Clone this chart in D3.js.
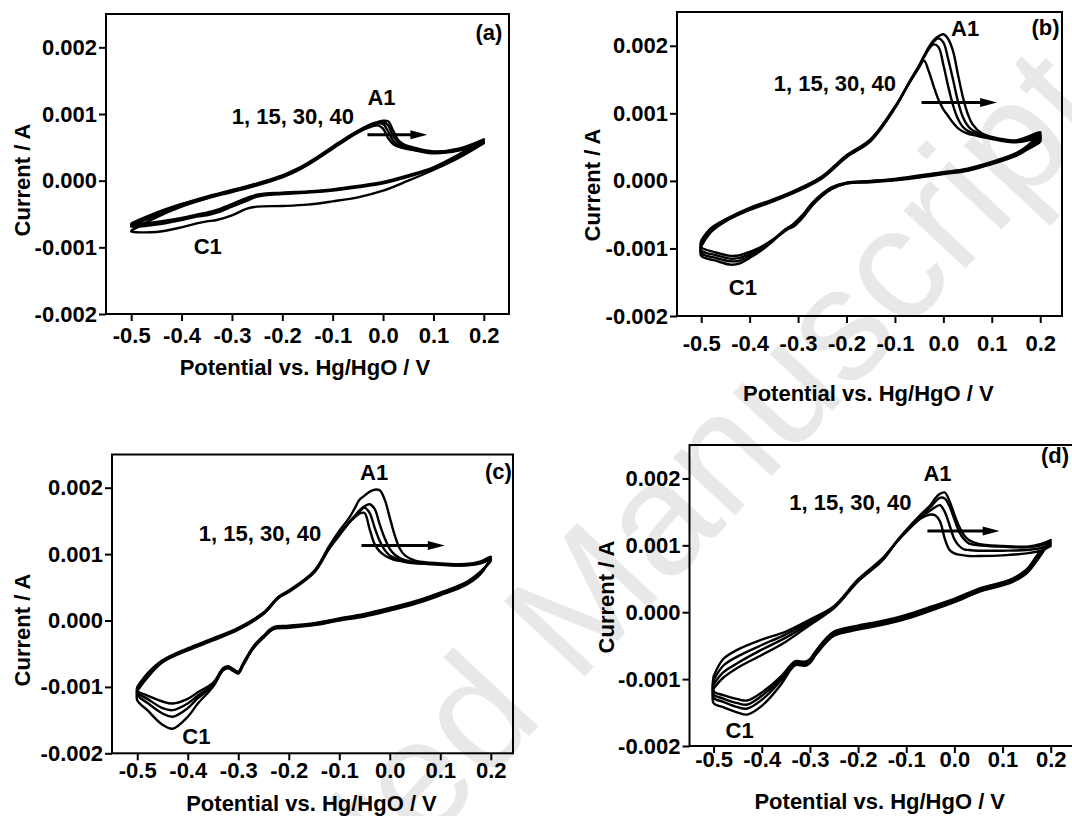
<!DOCTYPE html>
<html><head><meta charset="utf-8">
<script src="https://cdn.jsdelivr.net/npm/d3@7"></script>
<style>body{margin:0;background:#fff}svg{display:block}</style>
</head><body>
<svg id="chart" width="1072" height="816"></svg>
<script>
// ---------- shared axis data ----------
const xTickValues = [-0.5,-0.4,-0.3,-0.2,-0.1,0.0,0.1,0.2];
const xTickLabels = ["-0.5","-0.4","-0.3","-0.2","-0.1","0.0","0.1","0.2"];
const yTickValues = [-2,-1,0,1,2];            // mA
const yTickLabels = ["-0.002","-0.001","0.000","0.001","0.002"];
const cycleNames = ["1","15","30","40"];
const xTitle = "Potential vs. Hg/HgO / V";
const yTitle = "Current / A";
const cycleLabel = "1, 15, 30, 40";
const watermark = "Accepted Manuscript";

// ---------- panel (a) : E / V, I / mA ----------
const aFwdE = [-0.50,-0.45,-0.40,-0.35,-0.30,-0.25,-0.20,-0.17,-0.14,-0.10,-0.07,-0.04,-0.02,-0.01,0.00,0.01,0.02,0.03,0.04,0.06,0.10,0.15,0.20];
const aFwd1  = [-0.75,-0.55,-0.39,-0.27,-0.17,-0.07,0.05,0.15,0.28,0.48,0.63,0.76,0.82,0.83,0.78,0.64,0.55,0.51,0.49,0.46,0.41,0.45,0.56];
const aFwd15 = [-0.68,-0.52,-0.37,-0.26,-0.16,-0.06,0.06,0.16,0.29,0.49,0.64,0.77,0.84,0.86,0.85,0.74,0.60,0.53,0.50,0.47,0.42,0.46,0.58];
const aFwd30 = [-0.66,-0.50,-0.36,-0.25,-0.15,-0.05,0.07,0.17,0.30,0.50,0.65,0.78,0.85,0.87,0.88,0.83,0.67,0.57,0.52,0.48,0.43,0.47,0.60];
const aFwd40 = [-0.64,-0.48,-0.35,-0.24,-0.14,-0.04,0.08,0.18,0.31,0.51,0.66,0.79,0.86,0.88,0.90,0.89,0.75,0.61,0.55,0.50,0.44,0.48,0.62];
const aRevE  = [0.20,0.15,0.10,0.05,0.00,-0.05,-0.10,-0.15,-0.20,-0.25,-0.27,-0.30,-0.33,-0.35,-0.37,-0.40,-0.45,-0.50];
const aRev1  = [0.56,0.34,0.16,0.00,-0.15,-0.25,-0.31,-0.36,-0.38,-0.39,-0.42,-0.52,-0.59,-0.61,-0.64,-0.70,-0.77,-0.76];
const aRev15 = [0.58,0.37,0.18,0.06,-0.04,-0.10,-0.15,-0.18,-0.20,-0.24,-0.30,-0.39,-0.48,-0.52,-0.54,-0.59,-0.66,-0.69];
const aRev30 = [0.60,0.38,0.19,0.07,-0.03,-0.09,-0.14,-0.17,-0.19,-0.23,-0.28,-0.37,-0.46,-0.50,-0.52,-0.57,-0.64,-0.67];
const aRev40 = [0.62,0.39,0.20,0.08,-0.02,-0.08,-0.13,-0.16,-0.18,-0.21,-0.26,-0.35,-0.44,-0.48,-0.51,-0.56,-0.62,-0.65];

// ---------- panel (b) ----------
const bFwdE = [-0.50,-0.48,-0.45,-0.40,-0.35,-0.30,-0.25,-0.20,-0.15,-0.10,-0.07,-0.05,-0.04,-0.03,-0.02,-0.01,0.00,0.01,0.02,0.03,0.04,0.05,0.06,0.08,0.10,0.15,0.20];
const bFwd1  = [-0.88,-0.70,-0.57,-0.40,-0.27,-0.12,0.07,0.38,0.62,1.10,1.45,1.68,1.78,1.62,1.40,1.20,1.06,0.96,0.86,0.78,0.73,0.70,0.68,0.65,0.62,0.57,0.62];
const bFwd15 = [-0.91,-0.72,-0.58,-0.41,-0.28,-0.13,0.06,0.37,0.61,1.09,1.46,1.70,1.83,1.95,2.02,1.98,1.72,1.40,1.12,0.92,0.80,0.74,0.71,0.67,0.63,0.58,0.66];
const bFwd30 = [-0.94,-0.74,-0.59,-0.42,-0.29,-0.14,0.05,0.36,0.60,1.08,1.46,1.70,1.84,1.97,2.06,2.11,2.05,1.80,1.50,1.18,0.95,0.82,0.75,0.69,0.64,0.59,0.69];
const bFwd40 = [-0.97,-0.76,-0.60,-0.43,-0.30,-0.15,0.04,0.35,0.59,1.08,1.47,1.71,1.85,1.98,2.08,2.14,2.17,2.10,1.92,1.58,1.25,1.00,0.84,0.70,0.65,0.60,0.72];
const bRevE  = [0.20,0.17,0.15,0.10,0.05,0.00,-0.05,-0.10,-0.15,-0.20,-0.23,-0.25,-0.27,-0.29,-0.31,-0.32,-0.33,-0.35,-0.38,-0.40,-0.42,-0.44,-0.47,-0.50];
const bRev1  = [0.58,0.45,0.37,0.25,0.15,0.10,0.05,0.01,-0.02,-0.04,-0.12,-0.22,-0.36,-0.54,-0.68,-0.71,-0.76,-0.86,-0.99,-1.05,-1.10,-1.11,-1.06,-0.98];
const bRev15 = [0.62,0.46,0.38,0.26,0.16,0.11,0.06,0.015,-0.01,-0.035,-0.11,-0.21,-0.34,-0.52,-0.66,-0.70,-0.74,-0.86,-1.01,-1.08,-1.14,-1.15,-1.10,-1.03];
const bRev30 = [0.66,0.48,0.39,0.27,0.17,0.12,0.07,0.02,-0.005,-0.03,-0.10,-0.20,-0.33,-0.51,-0.65,-0.69,-0.74,-0.87,-1.03,-1.11,-1.18,-1.19,-1.14,-1.07];
const bRev40 = [0.70,0.50,0.41,0.28,0.18,0.13,0.08,0.03,0.00,-0.025,-0.09,-0.19,-0.32,-0.50,-0.64,-0.69,-0.74,-0.88,-1.05,-1.14,-1.22,-1.24,-1.18,-1.11];

// ---------- panel (c) ----------
const cFwdE = [-0.50,-0.48,-0.45,-0.40,-0.35,-0.30,-0.25,-0.22,-0.20,-0.15,-0.12,-0.10,-0.08,-0.07,-0.06,-0.05,-0.04,-0.03,-0.02,-0.01,0.00,0.01,0.02,0.03,0.05,0.08,0.10,0.15,0.18,0.20];
const cFwd1  = [-1.00,-0.80,-0.60,-0.42,-0.27,-0.11,0.12,0.36,0.45,0.74,1.10,1.30,1.48,1.55,1.61,1.62,1.38,1.15,1.04,0.98,0.94,0.91,0.90,0.88,0.86,0.85,0.84,0.83,0.86,0.92];
const cFwd15 = [-1.02,-0.82,-0.61,-0.43,-0.28,-0.12,0.11,0.35,0.44,0.73,1.09,1.29,1.48,1.56,1.64,1.70,1.62,1.40,1.20,1.06,0.98,0.94,0.91,0.89,0.87,0.85,0.84,0.83,0.87,0.93];
const cFwd30 = [-1.04,-0.84,-0.62,-0.44,-0.29,-0.13,0.10,0.34,0.43,0.72,1.08,1.28,1.48,1.57,1.66,1.72,1.75,1.68,1.45,1.24,1.08,0.99,0.94,0.91,0.88,0.86,0.85,0.84,0.88,0.94];
const cFwd40 = [-1.06,-0.86,-0.63,-0.45,-0.30,-0.14,0.10,0.35,0.44,0.74,1.12,1.35,1.55,1.68,1.82,1.88,1.94,1.97,1.96,1.82,1.55,1.28,1.08,0.98,0.90,0.87,0.86,0.85,0.89,0.96];
const cRevE  = [0.20,0.18,0.15,0.10,0.05,0.00,-0.05,-0.10,-0.15,-0.20,-0.23,-0.25,-0.27,-0.29,-0.30,-0.31,-0.32,-0.33,-0.35,-0.38,-0.40,-0.43,-0.45,-0.48,-0.50];
const cRev1  = [0.90,0.74,0.57,0.42,0.29,0.19,0.10,0.03,-0.04,-0.08,-0.10,-0.23,-0.39,-0.64,-0.77,-0.73,-0.69,-0.72,-0.94,-1.08,-1.18,-1.25,-1.22,-1.13,-1.06];
const cRev15 = [0.92,0.73,0.56,0.41,0.28,0.18,0.09,0.02,-0.05,-0.09,-0.11,-0.24,-0.40,-0.65,-0.78,-0.74,-0.70,-0.73,-0.96,-1.13,-1.25,-1.35,-1.32,-1.18,-1.09];
const cRev30 = [0.93,0.72,0.55,0.40,0.27,0.17,0.08,0.01,-0.06,-0.10,-0.12,-0.25,-0.41,-0.66,-0.79,-0.75,-0.71,-0.74,-0.98,-1.17,-1.32,-1.45,-1.40,-1.24,-1.12];
const cRev40 = [0.95,0.70,0.53,0.38,0.25,0.15,0.06,0.00,-0.07,-0.11,-0.13,-0.26,-0.42,-0.67,-0.80,-0.76,-0.72,-0.75,-1.00,-1.25,-1.45,-1.63,-1.57,-1.35,-1.20];

// ---------- panel (d) ----------
const dFwdE = [-0.50,-0.48,-0.45,-0.40,-0.35,-0.30,-0.25,-0.20,-0.15,-0.12,-0.10,-0.07,-0.05,-0.04,-0.03,-0.02,-0.01,0.00,0.01,0.02,0.03,0.05,0.10,0.15,0.18,0.20];
const dFwd1  = [-0.96,-0.70,-0.56,-0.41,-0.29,-0.11,0.09,0.49,0.80,1.05,1.20,1.40,1.46,1.45,1.36,1.10,0.93,0.88,0.86,0.85,0.84,0.84,0.85,0.88,0.92,0.99];
const dFwd15 = [-1.02,-0.80,-0.66,-0.49,-0.33,-0.14,0.08,0.48,0.79,1.05,1.21,1.42,1.52,1.57,1.60,1.50,1.30,1.09,0.99,0.94,0.93,0.92,0.92,0.93,0.96,1.02];
const dFwd30 = [-1.08,-0.90,-0.76,-0.56,-0.38,-0.17,0.07,0.47,0.78,1.05,1.22,1.44,1.57,1.65,1.71,1.70,1.58,1.39,1.20,1.09,1.03,1.00,0.98,0.97,1.00,1.05];
const dFwd40 = [-1.14,-0.98,-0.83,-0.64,-0.44,-0.19,0.06,0.46,0.77,1.06,1.23,1.46,1.60,1.70,1.77,1.79,1.66,1.46,1.28,1.15,1.08,1.02,0.99,0.98,1.02,1.08];
const dRevE  = [0.20,0.18,0.15,0.12,0.10,0.05,0.00,-0.05,-0.10,-0.15,-0.20,-0.25,-0.27,-0.29,-0.30,-0.31,-0.33,-0.34,-0.36,-0.40,-0.43,-0.45,-0.48,-0.50];
const dRev1  = [0.99,0.92,0.64,0.50,0.45,0.35,0.20,0.08,-0.04,-0.13,-0.20,-0.29,-0.42,-0.60,-0.70,-0.74,-0.73,-0.79,-0.96,-1.20,-1.32,-1.30,-1.24,-1.18];
const dRev15 = [1.02,0.90,0.62,0.49,0.44,0.34,0.19,0.06,-0.06,-0.15,-0.22,-0.31,-0.44,-0.62,-0.72,-0.76,-0.75,-0.81,-0.99,-1.25,-1.38,-1.36,-1.29,-1.23];
const dRev30 = [1.05,0.88,0.60,0.47,0.42,0.32,0.17,0.04,-0.08,-0.17,-0.24,-0.33,-0.46,-0.64,-0.74,-0.78,-0.77,-0.83,-1.02,-1.31,-1.44,-1.42,-1.34,-1.28];
const dRev40 = [1.08,0.86,0.58,0.45,0.40,0.30,0.15,0.02,-0.10,-0.19,-0.26,-0.35,-0.48,-0.66,-0.76,-0.80,-0.79,-0.86,-1.08,-1.40,-1.53,-1.50,-1.42,-1.36];

// ---------- layout (positions/styles only) ----------
const panels = [
  {tag:"(a)", fwdE:aFwdE, revE:aRevE, fwd:[aFwd1,aFwd15,aFwd30,aFwd40], rev:[aRev1,aRev15,aRev30,aRev40],
   box:{l:106,r:509,t:14,b:314}, xDom:[-0.55,0.25], xLabOff:21, xTitleOff:53, yTitlePos:[22,180],
   tagAt:[0.21,2.22], a1At:[-0.003,1.245], cycAt:[-0.179,0.96], c1At:[-0.348,-0.99], arrow:[-0.031,0.088,0.69]},
  {tag:"(b)", fwdE:bFwdE, revE:bRevE, fwd:[bFwd1,bFwd15,bFwd30,bFwd40], rev:[bRev1,bRev15,bRev30,bRev40],
   box:{l:677,r:1062,t:12,b:316}, xDom:[-0.55,0.245], xLabOff:27, xTitleOff:77, yTitlePos:[592,185],
   tagAt:[0.211,2.28], a1At:[0.045,2.26], cycAt:[-0.224,1.45], c1At:[-0.414,-1.57], arrow:[-0.045,0.111,1.16]},
  {tag:"(c)", fwdE:cFwdE, revE:cRevE, fwd:[cFwd1,cFwd15,cFwd30,cFwd40], rev:[cRev1,cRev15,cRev30,cRev40],
   box:{l:112,r:513,t:454.5,b:753.3}, xDom:[-0.55,0.244], xLabOff:17, xTitleOff:50, yTitlePos:[22,630],
   tagAt:[0.215,2.25], a1At:[-0.031,2.23], cycAt:[-0.257,1.32], c1At:[-0.383,-1.75], arrow:[-0.056,0.109,1.13]},
  {tag:"(d)", fwdE:dFwdE, revE:dRevE, fwd:[dFwd1,dFwd15,dFwd30,dFwd40], rev:[dRev1,dRev15,dRev30,dRev40],
   box:{l:689.5,r:1074.8,t:445,b:746}, xDom:[-0.55,0.25], xLabOff:13, xTitleOff:55, yTitlePos:[606,597],
   tagAt:[0.209,2.34], a1At:[-0.035,2.07], cycAt:[-0.216,1.64], c1At:[-0.446,-1.76], arrow:[-0.056,0.094,1.215]}
];

const FONT = "'Liberation Sans', Arial, Helvetica, sans-serif";
const FS = 22;
const svg = d3.select("#chart");

// watermark behind everything
svg.append("text")
  .attr("transform","translate(600,660) rotate(-47)")
  .attr("text-anchor","middle")
  .attr("font-family",FONT).attr("font-size",160)
  .attr("fill","#e8e8e8")
  .text(watermark);

const line = d3.line().curve(d3.curveCatmullRom.alpha(0.5));

panels.forEach(p => {
  const x = d3.scaleLinear().domain(p.xDom).range([p.box.l, p.box.r]);
  const y = d3.scaleLinear().domain([-2, 2.5]).range([p.box.b, p.box.t]);
  const g = svg.append("g");

  // curves
  cycleNames.forEach((name, i) => {
    const pts = p.fwdE.map((e, j) => [x(e), y(p.fwd[i][j])])
      .concat(p.revE.map((e, j) => [x(e), y(p.rev[i][j])]));
    pts.push(pts[0]);
    g.append("path").attr("d", line(pts))
      .attr("fill","none").attr("stroke","#000").attr("stroke-width",2.4)
      .attr("stroke-linejoin","round").attr("data-cycle", name);
  });

  // frame
  g.append("rect").attr("x",p.box.l).attr("y",p.box.t)
    .attr("width",p.box.r-p.box.l).attr("height",p.box.b-p.box.t)
    .attr("fill","none").attr("stroke","#000").attr("stroke-width",2);

  // axes
  const ax = g.append("g").attr("transform",`translate(0,${p.box.b})`)
    .call(d3.axisBottom(x).tickValues(xTickValues).tickFormat((d,i)=>xTickLabels[i])
      .tickSize(7).tickPadding(p.xLabOff - 7 - 8));
  const ay = g.append("g").attr("transform",`translate(${p.box.l},0)`)
    .call(d3.axisLeft(y).tickValues(yTickValues).tickFormat((d,i)=>yTickLabels[i])
      .tickSize(7).tickPadding(2));
  [ax, ay].forEach(a => {
    a.select(".domain").remove();
    a.selectAll("line").attr("stroke","#000").attr("stroke-width",2);
    a.selectAll("text").attr("font-family",FONT).attr("font-size",FS)
      .attr("font-weight","bold").attr("fill","#000");
  });

  // titles
  g.append("text").attr("x", x(-0.155)).attr("y", p.box.b + p.xTitleOff).attr("dy","0.35em")
    .attr("text-anchor","middle").attr("font-family",FONT).attr("font-size",FS)
    .attr("font-weight","bold").text(xTitle);
  g.append("text").attr("transform",`translate(${p.yTitlePos[0]},${p.yTitlePos[1]}) rotate(-90)`)
    .attr("dy","0.35em").attr("text-anchor","middle").attr("font-family",FONT)
    .attr("font-size",FS).attr("font-weight","bold").text(yTitle);

  // annotations
  const note = (pos, txt) => g.append("text").attr("x", x(pos[0])).attr("y", y(pos[1]))
    .attr("dy","0.35em").attr("text-anchor","middle").attr("font-family",FONT)
    .attr("font-size",FS).attr("font-weight","bold").text(txt);
  note(p.tagAt, p.tag);
  note(p.a1At, "A1");
  note(p.cycAt, cycleLabel);
  note(p.c1At, "C1");

  // arrow
  const x1 = x(p.arrow[0]), x2 = x(p.arrow[1]), ya = y(p.arrow[2]);
  g.append("line").attr("x1",x1).attr("x2",x2-12).attr("y1",ya).attr("y2",ya)
    .attr("stroke","#000").attr("stroke-width",3);
  g.append("path").attr("d",`M${x2},${ya}L${x2-17},${ya-4.5}L${x2-17},${ya+4.5}Z`).attr("fill","#000");
});
</script>
</body></html>
